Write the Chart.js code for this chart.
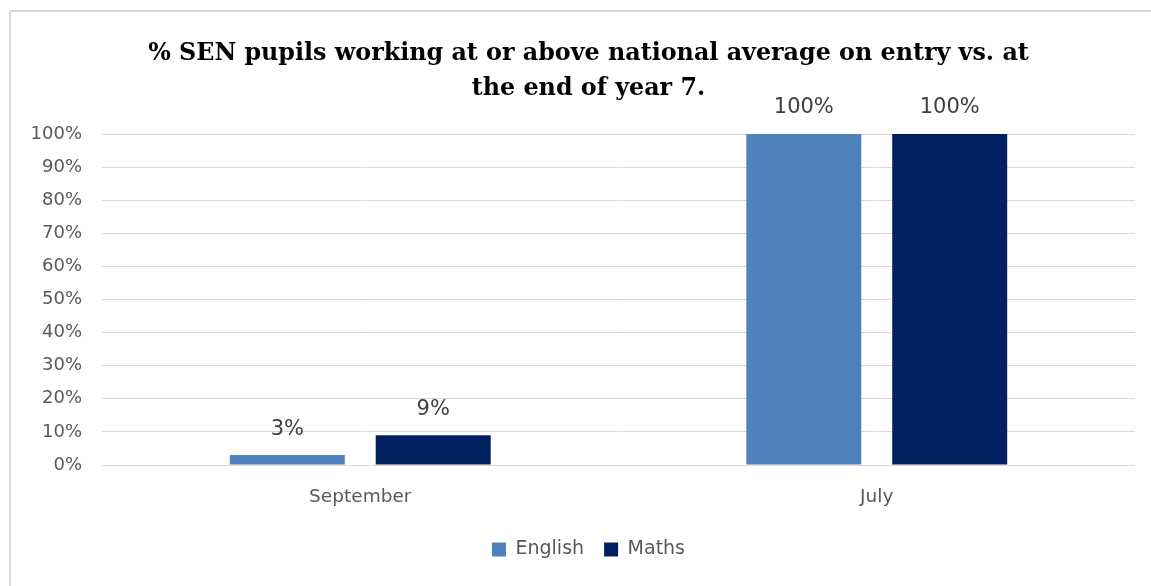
<!DOCTYPE html>
<html>
<head>
<meta charset="utf-8">
<script src="https://cdn.jsdelivr.net/npm/chart.js@4"></script>
<style>
  html, body { margin: 0; padding: 0; background: #fff; overflow: hidden; }
  #wrap { position: relative; width: 1151px; height: 586px; }
  #frame { position: absolute; left: 9px; top: 10px; width: 1160px; height: 600px; border: 2px solid #d9d9d9; box-sizing: border-box; }
  canvas { position: absolute; left: 0; top: 0; }
</style>
</head>
<body>
<div id="wrap">
  <div id="frame"></div>
  <canvas id="chart" width="1151" height="586"></canvas>
</div>
<script>
// data
const categories = ['September', 'July'];
const englishValues = [3, 100];
const mathsValues = [9, 100];
const titleLines = ['% SEN pupils working at or above national average on entry vs. at', 'the end of year 7.'];

// 柱頂數值標籤
const valueLabels = {
  id: 'valueLabels',
  afterDatasetsDraw(chart) {
    const ctx = chart.ctx;
    ctx.save();
    ctx.font = '21px "DejaVu Sans"';
    ctx.fillStyle = '#404040';
    ctx.textAlign = 'center';
    ctx.textBaseline = 'middle';
    chart.data.datasets.forEach((ds, i) => {
      chart.getDatasetMeta(i).data.forEach((bar, j) => {
        ctx.fillText(ds.data[j] + '%', bar.x, bar.y - 26);
      });
    });
    ctx.restore();
  }
};

// 標題與圖例置中於外框 (略向右移)
const centerOnFrame = {
  id: 'centerOnFrame',
  afterLayout(chart) {
    [chart.titleBlock, chart.legend].forEach(b => {
      if (!b) return;
      b.left += 16;
      b.right += 16;
    });
  }
};

new Chart(document.getElementById('chart'), {
  type: 'bar',
  data: {
    labels: categories,
    datasets: [
      { label: 'English', data: englishValues, backgroundColor: '#4f81bd' },
      { label: 'Maths', data: mathsValues, backgroundColor: '#002060' }
    ]
  },
  options: {
    responsive: false,
    animation: false,
    layout: { padding: { left: 10, right: 16, top: 0, bottom: 17 } },
    datasets: { bar: { categoryPercentage: 0.565, barPercentage: 0.788 } },
    scales: {
      x: {
        grid: { display: false, drawTicks: false },
        border: { display: false },
        ticks: { color: '#595959', font: { family: 'DejaVu Sans', size: 18.5 }, padding: 21 },
        afterFit: s => { s.height = 55; }
      },
      y: {
        min: 0, max: 100,
        ticks: { stepSize: 10, color: '#595959', font: { family: 'DejaVu Sans', size: 18 }, padding: 20, callback: v => v + '%' },
        grid: { color: '#d9d9d9', lineWidth: 1, drawTicks: false },
        border: { display: false },
        afterFit: s => { s.width = 92; }
      }
    },
    plugins: {
      title: {
        display: true,
        text: titleLines,
        color: '#000',
        font: { family: 'DejaVu Serif', size: 23.8, weight: 'bold', lineHeight: '35px' },
        padding: { top: 36, bottom: 28 }
      },
      legend: {
        position: 'bottom',
        labels: { color: '#595959', font: { family: 'DejaVu Sans', size: 19 }, boxWidth: 14, boxHeight: 14, padding: 20 }
      },
      tooltip: { enabled: false }
    }
  },
  plugins: [valueLabels, centerOnFrame]
});
</script>
</body>
</html>
